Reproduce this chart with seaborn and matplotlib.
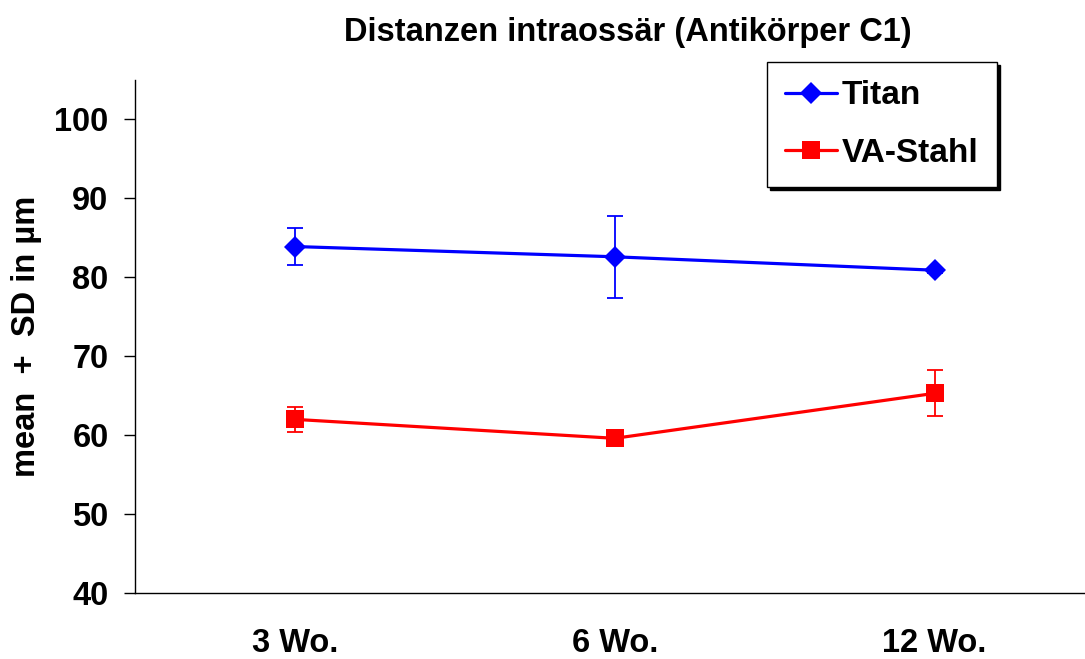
import matplotlib
matplotlib.use("Agg")
import matplotlib.pyplot as plt
import pandas as pd
import seaborn as sns

sns.set_theme(style="white")
plt.rcParams["font.family"] = ["Liberation Sans", "DejaVu Sans"]
plt.rcParams["font.weight"] = "bold"
plt.rcParams["text.color"] = "black"
plt.rcParams["axes.labelcolor"] = "black"

weeks = ["3 Wo.", "6 Wo.", "12 Wo."]
titan_mean = [83.9, 82.6, 80.9]
titan_sd = [2.3, 5.2, 0.3]
stahl_mean = [62.0, 59.6, 65.3]
stahl_sd = [1.6, 0.3, 2.9]

df = pd.DataFrame({
    "week": weeks * 2,
    "mean": titan_mean + stahl_mean,
    "sd": titan_sd + stahl_sd,
    "material": ["Titan"] * 3 + ["VA-Stahl"] * 3,
})
colors = {"Titan": "#0000ff", "VA-Stahl": "#ff0000"}
markers = {"Titan": "D", "VA-Stahl": "s"}
msize = {"Titan": 11, "VA-Stahl": 13}

fig = plt.figure(figsize=(10.85, 6.59), dpi=100)
ax = fig.add_axes([135 / 1085, 66 / 659, 950 / 1085, 513 / 659])

for name, grp in df.groupby("material"):
    sns.lineplot(data=grp, x="week", y="mean", color=colors[name], marker=markers[name],
                 markersize=msize[name], markeredgewidth=0, linewidth=2.3, label=name,
                 sort=False, ax=ax)
    ax.errorbar(grp["week"], grp["mean"], yerr=grp["sd"], fmt="none", ecolor=colors[name],
                elinewidth=1.3, capsize=6, capthick=1.3, zorder=1)

ax.set_ylim(40, 105)
ax.set_xlim(-0.5, 2.47)
ax.set_yticks(range(40, 101, 10))
ax.set_xlabel("")
ax.set_ylabel("mean  +  SD in µm", fontsize=23.5, fontweight="bold", labelpad=9, color="black")
ax.tick_params(axis="y", length=8, width=1, direction="out", left=True, labelsize=23.5, pad=11,
               colors="black")
ax.tick_params(axis="x", length=0, labelsize=23.5, pad=25, colors="black")
for lab in ax.get_xticklabels() + ax.get_yticklabels():
    lab.set_fontweight("bold")
for side in ["top", "right"]:
    ax.spines[side].set_visible(False)
for side in ["left", "bottom"]:
    ax.spines[side].set_color("black")
    ax.spines[side].set_linewidth(1)

fig.text(628 / 1085, 1 - 32 / 659, "Distanzen intraossär (Antikörper C1)", ha="center", va="center",
         fontsize=23.5, fontweight="bold", color="black")

leg = ax.legend(loc="upper left", bbox_to_anchor=(767 / 1085, 1 - 62 / 659), bbox_transform=fig.transFigure,
                fontsize=24, frameon=True, fancybox=False, edgecolor="black", handlelength=1.55,
                handletextpad=0.15, borderpad=0.55, labelspacing=0.8, borderaxespad=0,
                shadow={"color": "black", "alpha": 1})
leg.get_frame().set_linewidth(1)
for t in leg.get_texts():
    t.set_fontweight("bold")
    t.set_color("black")

fig.savefig("out.png", dpi=100)
